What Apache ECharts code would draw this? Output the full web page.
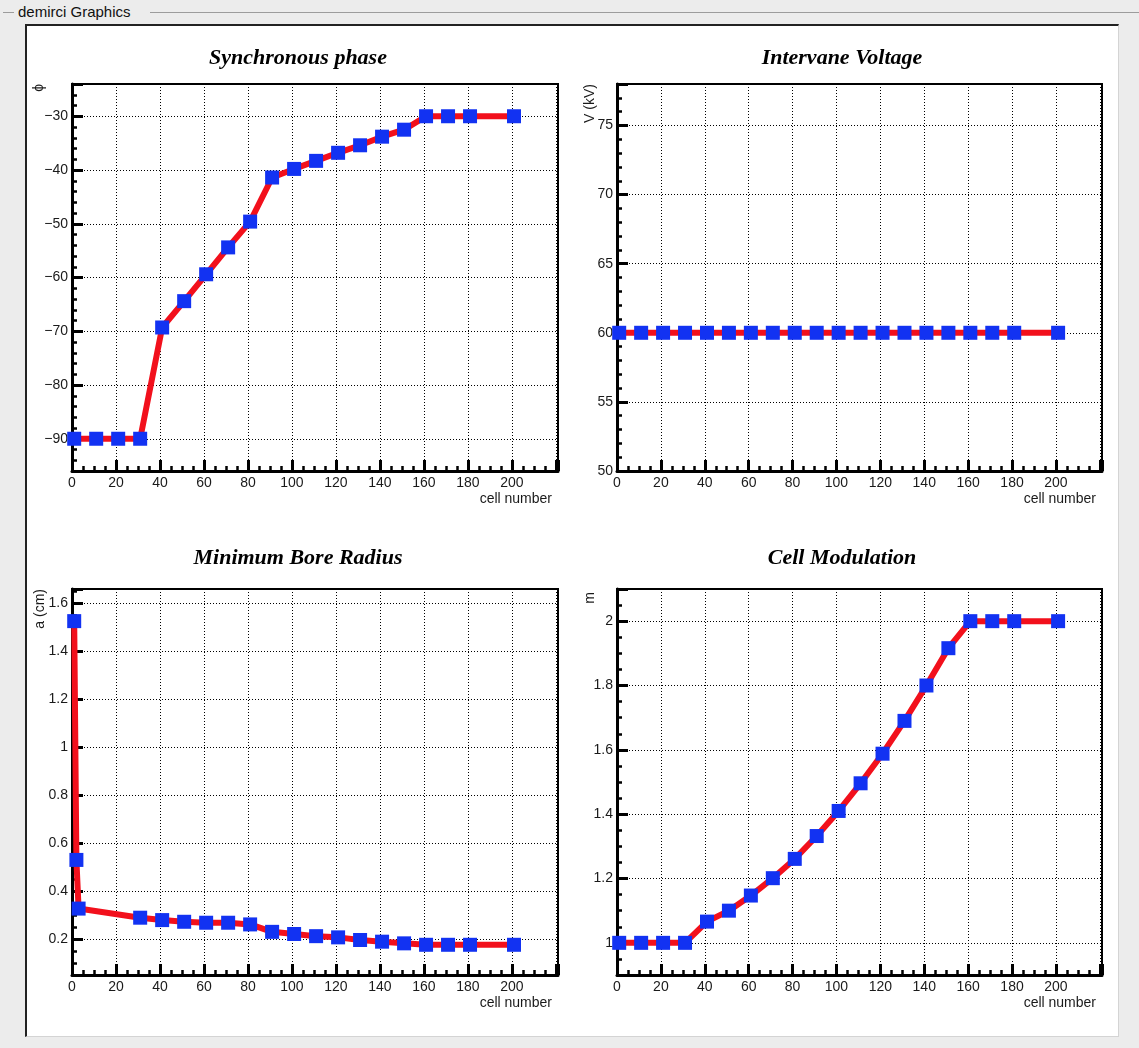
<!DOCTYPE html>
<html><head><meta charset="utf-8">
<script src="https://cdn.jsdelivr.net/npm/echarts@6/dist/echarts.min.js"></script>
<style>
html,body{margin:0;padding:0;background:#ececec;width:1139px;height:1048px;overflow:hidden;position:relative;}
.gl{position:absolute;height:1px;background:#9c9c9c;top:12px;}
#gbt{position:absolute;left:18px;top:3px;font:15px "Liberation Sans",Arial,sans-serif;color:#111;line-height:18px;}
#cv{position:absolute;left:25px;top:24px;width:1094px;height:1013px;background:#fff;border-left:2px solid #222;border-top:2px solid #222;border-right:1px solid #d4d4d4;border-bottom:1px solid #d4d4d4;box-sizing:border-box;}
#c{position:absolute;left:0;top:0;width:1139px;height:1048px;}
</style>
</head><body>
<div class="gl" style="left:3px;width:11px"></div>
<div id="gbt">demirci Graphics</div>
<div class="gl" style="left:150px;right:0"></div>
<div id="cv"></div>
<div id="c"></div>
<script>
// ---- data ----
const cellsStd = [1, 11, 21, 31, 41, 51, 61, 71, 81, 91, 101, 111, 121, 131, 141, 151, 161, 171, 181, 201];
const cellsBore = [1, 2, 3, 31, 41, 51, 61, 71, 81, 91, 101, 111, 121, 131, 141, 151, 161, 171, 181, 201];
const phaseDeg = [-90, -90, -90, -90, -69.3, -64.4, -59.4, -54.4, -49.6, -41.4, -39.8, -38.3, -36.8, -35.4, -33.8, -32.5, -30, -30, -30, -30];
const voltageKV = [60, 60, 60, 60, 60, 60, 60, 60, 60, 60, 60, 60, 60, 60, 60, 60, 60, 60, 60, 60];
const boreRadiusCm = [1.526, 0.530, 0.327, 0.289, 0.279, 0.272, 0.268, 0.268, 0.261, 0.230, 0.221, 0.212, 0.207, 0.196, 0.189, 0.182, 0.176, 0.176, 0.176, 0.176];
const modulation = [1, 1, 1, 1, 1.066, 1.10, 1.147, 1.201, 1.261, 1.332, 1.41, 1.496, 1.588, 1.69, 1.80, 1.916, 2, 2, 2, 2];

const panelTitles = ['Synchronous phase', 'Intervane Voltage', 'Minimum Bore Radius', 'Cell Modulation'];
const yTitles = ['\u03D5', 'V (kV)', 'a (cm)', 'm'];
const xTitle = 'cell number';
const xLabelMax = 200;

// ---- layout ----
const grids = [
  {left: 72, top: 84, width: 486, height: 387},
  {left: 617, top: 84, width: 485, height: 387},
  {left: 72, top: 589, width: 486, height: 386},
  {left: 617, top: 589, width: 485, height: 386}
];
const yCfg = [
  {min: -96, max: -24, split: 7, step: 10, minor: 5},
  {min: 50, max: 78, split: 6, step: 5, minor: 5, interval: 5},
  {min: 0.05, max: 1.66, split: 8, step: 0.2, minor: 4},
  {min: 0.9, max: 2.1, split: 6, step: 0.2, minor: 4}
];
const series = [
  [cellsStd, phaseDeg], [cellsStd, voltageKV], [cellsBore, boreRadiusCm], [cellsStd, modulation]
];

const LABEL_FONT = {fontFamily: '"Liberation Sans", Arial, sans-serif', fontSize: 14, color: '#1a1a1a'};
const grid = grids.map(g => Object.assign({show: true, borderColor: '#000', borderWidth: 2, backgroundColor: 'transparent'}, g));

function fmt(v) {
  let s = String(Math.round(v * 1000) / 1000);
  return s.replace('-', '\u2212');
}
function onStep(v, step) {
  const r = v / step;
  return Math.abs(r - Math.round(r)) < 1e-6;
}

const xAxis = grids.map((g, i) => ({
  type: 'value', gridIndex: i, min: 0, max: 221, interval: 20,
  axisLine: {show: true, onZero: false, lineStyle: {color: '#000', width: 3}},
  axisTick: {show: true, inside: true, length: 11, lineStyle: {color: '#000', width: 3}},
  minorTick: {show: true, splitNumber: 4, length: 5, lineStyle: {color: '#000', width: 2.5}},
  axisLabel: Object.assign({margin: 5, showMaxLabel: false, formatter: v => (onStep(v, 20) && v <= xLabelMax) ? fmt(v) : ''}, LABEL_FONT),
  splitLine: {show: true, lineStyle: {color: '#000', width: 1, type: [1, 2]}}
}));

const yAxis = yCfg.map((c, i) => {
  const a = {
    type: 'value', gridIndex: i, min: c.min, max: c.max, splitNumber: c.split,
    axisLine: {show: true, onZero: false, lineStyle: {color: '#000', width: 3}},
    axisTick: {show: true, inside: true, length: 11, lineStyle: {color: '#000', width: 3}},
    minorTick: {show: true, splitNumber: c.minor, length: 5, lineStyle: {color: '#000', width: 2.5}},
    axisLabel: Object.assign({margin: 4, showMaxLabel: false, formatter: v => onStep(v, c.step) ? fmt(v) : ''}, LABEL_FONT),
    splitLine: {show: true, lineStyle: {color: '#000', width: 1, type: [1, 2]}}
  };
  if (c.interval) a.interval = c.interval;
  return a;
});

const seriesOpt = series.map((s, i) => ({
  type: 'line', xAxisIndex: i, yAxisIndex: i,
  data: s[0].map((x, k) => [x, s[1][k]]),
  symbol: 'rect', symbolSize: 14, showAllSymbol: true,
  lineStyle: {color: '#f2101c', width: 6},
  itemStyle: {color: '#1232f2', borderWidth: 0},
  emphasis: {disabled: true}, animation: false, clip: false, z: 5
}));

const titleFont = 'italic bold 22px "Liberation Serif", "Times New Roman", serif';
const axFont = '14px "Liberation Sans", Arial, sans-serif';
const padCenters = [[298, 58], [842, 58], [298, 558], [842, 558]];
const graphics = [];
panelTitles.forEach((t, i) => {
  graphics.push({type: 'text', x: padCenters[i][0], y: padCenters[i][1], z: 20,
    style: {text: t, font: titleFont, fill: '#000', align: 'center', verticalAlign: 'middle'}});
});
const yTitlePos = [[39, 84], [590, 84], [40, 589], [590, 592]];
yTitles.forEach((t, i) => {
  graphics.push({type: 'text', x: yTitlePos[i][0], y: yTitlePos[i][1], rotation: Math.PI / 2, z: 20,
    style: {text: t, font: axFont, fill: '#1a1a1a', align: 'right', verticalAlign: 'middle'}});
});
grids.forEach(g => {
  graphics.push({type: 'text', x: g.left + g.width - 6, y: g.top + g.height + 28, z: 20,
    style: {text: xTitle, font: axFont, fill: '#1a1a1a', align: 'right', verticalAlign: 'middle'}});
});

const chart = echarts.init(document.getElementById('c'), null, {renderer: 'canvas'});
chart.setOption({
  backgroundColor: 'transparent',
  animation: false,
  grid: grid,
  xAxis: xAxis,
  yAxis: yAxis,
  series: seriesOpt,
  graphic: graphics
});
</script>
</body></html>
